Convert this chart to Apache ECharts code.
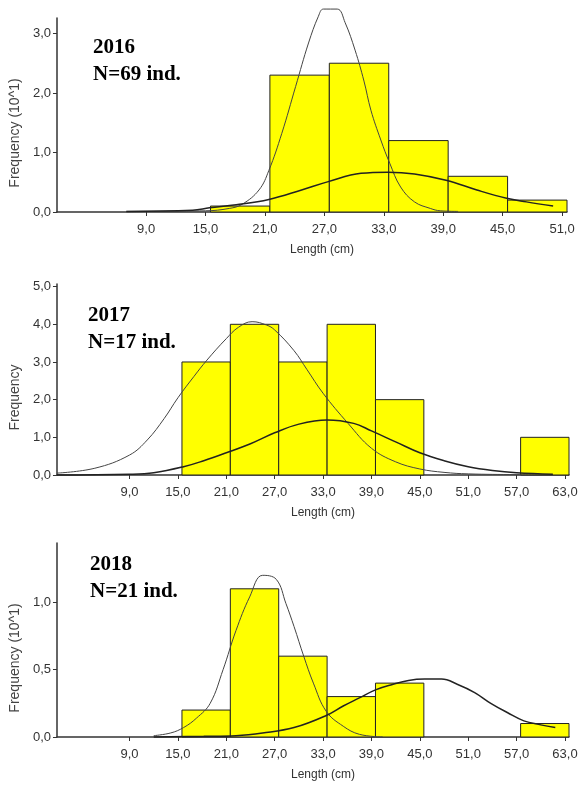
<!DOCTYPE html>
<html>
<head>
<meta charset="utf-8">
<script src="https://cdn.jsdelivr.net/npm/echarts@6/dist/echarts.min.js"></script>
<style>
  html, body { margin: 0; padding: 0; background: #fff; }
  #chart { width: 582px; height: 787px; }
</style>
</head>
<body>
<div id="chart"></div>
<script>
// bins: left edge of each 6 cm class, and its frequency
var binWidth = 6
var bins2016 = [15.5, 21.5, 27.5, 33.5, 39.5, 45.5]
var freq2016 = [0.1, 2.3, 2.5, 1.2, 0.6, 0.2]
var bins2017 = [15.5, 21.5, 27.5, 33.5, 39.5, 57.5]
var freq2017 = [3, 4, 3, 4, 2, 1]
var bins2018 = [15.5, 21.5, 27.5, 33.5, 39.5, 57.5]
var freq2018 = [0.2, 1.1, 0.6, 0.3, 0.4, 0.1]

// fitted curves [length, frequency]
var narrow2016 = [[7, 0.01], [15, 0.02], [17.4, 0.06], [18.7, 0.13], [20.4, 0.37], [21.4, 0.7], [22.7, 1.32],
  [24.1, 2.11], [25.4, 2.84], [26.4, 3.29], [26.9, 3.41], [28.3, 3.41], [29.1, 3.18], [30.1, 2.72],
  [31, 2.2], [31.7, 1.71], [32.7, 1.21], [33.6, 0.82], [34.7, 0.42], [36.1, 0.17], [37.7, 0.06],
  [38.7, 0.02], [40.5, 0.01]]
var wide2016 = [[7, 0.01], [13.7, 0.03], [15.4, 0.07], [18.1, 0.12], [21.4, 0.21], [24.7, 0.37], [27.4, 0.51],
  [30.7, 0.65], [33.4, 0.67], [36.1, 0.64], [39.4, 0.53], [42.4, 0.37], [45.4, 0.23], [47.4, 0.17], [50.1, 0.1]]
var narrow2017 = [[0, 0.05], [4.7, 0.18], [9, 0.53], [11.2, 0.93], [13.3, 1.5], [15, 2.05], [17, 2.62],
  [18.6, 3.05], [21, 3.62], [22.5, 3.92], [24.2, 4.07], [26, 3.98], [27, 3.85], [29.4, 3.3], [31, 2.8],
  [33, 2.17], [36.1, 1.37], [39, 0.71], [42, 0.35], [45, 0.16], [48, 0.07], [51, 0.03], [57, 0.01], [61.5, 0]]
var wide2017 = [[0, 0], [9, 0.02], [12, 0.06], [15.7, 0.22], [18.2, 0.38], [21, 0.59], [24, 0.83], [27, 1.12],
  [30, 1.35], [33.5, 1.46], [36.8, 1.37], [39, 1.17], [42, 0.88], [45, 0.59], [48, 0.38], [51, 0.22],
  [54, 0.12], [57, 0.06], [61.5, 0.02]]
var narrow2018 = [[12, 0.01], [14.1, 0.03], [15.7, 0.07], [17.3, 0.14], [19, 0.25], [20.6, 0.5], [22.2, 0.79],
  [23.9, 1.04], [25.5, 1.2], [27.2, 1.17], [28.4, 0.99], [29.4, 0.82], [30.6, 0.6], [31.8, 0.4],
  [33.4, 0.19], [35.5, 0.08], [37.5, 0.02], [40.4, 0]]
var wide2018 = [[12, 0], [18.2, 0.005], [22.2, 0.01], [25.5, 0.03], [29.4, 0.07], [33.4, 0.16], [35.5, 0.23],
  [37.5, 0.29], [39.5, 0.35], [41.6, 0.39], [43.6, 0.42], [45.6, 0.43], [47.7, 0.43], [49.7, 0.39],
  [51.8, 0.33], [53.8, 0.25], [55.9, 0.18], [57.9, 0.12], [60, 0.09], [61.8, 0.07]]

// tick labels
var xTicks2016 = [9, 15, 21, 27, 33, 39, 45, 51]
var xTicksLong = [9, 15, 21, 27, 33, 39, 45, 51, 57, 63]
var yTicks2016 = [0, 1, 2, 3]
var yTicks2017 = [0, 1, 2, 3, 4, 5]
var yTicks2018 = [0, 0.5, 1]

var titles = ['2016\nN=69 ind.', '2017\nN=17 ind.', '2018\nN=21 ind.']

var chart = echarts.init(document.getElementById('chart'))

function comma (v) {
  return v.toFixed(1).replace('.', ',')
}

function xAxis (idx, max, ticks) {
  return {
    type: 'value', gridIndex: idx, min: 0, max: max,
    name: 'Length (cm)', nameLocation: 'middle', nameGap: 32,
    nameTextStyle: { color: '#333', fontSize: 12, fontFamily: 'Liberation Sans', padding: [0, 0, 0, 20] },
    axisLine: { lineStyle: { color: '#333', width: 1.5 } },
    axisTick: { show: true, length: 4, customValues: ticks, lineStyle: { color: '#333' } },
    axisLabel: { customValues: ticks, formatter: comma, margin: 11, color: '#333', fontSize: 13, fontFamily: 'Liberation Sans' },
    splitLine: { show: false }
  }
}

function yAxis (idx, max, ticks, name, gap) {
  return {
    type: 'value', gridIndex: idx, min: 0, max: max,
    name: name, nameLocation: 'middle', nameGap: gap, nameRotate: 90,
    nameTextStyle: { color: '#444', fontSize: 14, fontFamily: 'Liberation Sans', padding: [0, 36, 0, 0] },
    axisLine: { show: true, lineStyle: { color: '#333', width: 1.5 } },
    axisTick: { show: true, length: 4, customValues: ticks, lineStyle: { color: '#333' } },
    axisLabel: { customValues: ticks, formatter: comma, margin: 6, color: '#333', fontSize: 13, fontFamily: 'Liberation Sans' },
    splitLine: { show: false }
  }
}

function bars (idx, starts, freq) {
  var data = starts.map(function (s, i) { return [s, s + binWidth, freq[i]] })
  return {
    type: 'custom', xAxisIndex: idx, yAxisIndex: idx, data: data,
    renderItem: function (params, api) {
      var a = api.coord([api.value(0), api.value(2)])
      var b = api.coord([api.value(1), 0])
      return {
        type: 'rect',
        shape: { x: a[0], y: a[1], width: b[0] - a[0], height: b[1] - a[1] },
        style: { fill: '#ffff00', stroke: '#222', lineWidth: 1 }
      }
    },
    z: 2
  }
}

function curve (idx, pts, width, color) {
  return {
    type: 'line', xAxisIndex: idx, yAxisIndex: idx, data: pts,
    smooth: 0.4, showSymbol: false, clip: false, silent: true,
    lineStyle: { color: color, width: width }, z: 3
  }
}

chart.setOption({
  animation: false,
  title: titles.map(function (t, i) {
    return {
      text: t, left: [88, 83, 85][i], top: [29, 297, 546][i],
      textStyle: { fontFamily: 'Liberation Serif', fontWeight: 'bold', fontSize: 21, lineHeight: 27, color: '#000' }
    }
  }),
  grid: [
    { left: 52, top: 18, width: 515, height: 194 },
    { left: 52, top: 284, width: 517, height: 191 },
    { left: 53, top: 543, width: 516, height: 194 }
  ],
  xAxis: [
    xAxis(0, 51.5, xTicks2016),
    xAxis(1, 63.5, xTicksLong),
    xAxis(2, 63.5, xTicksLong)
  ],
  yAxis: [
    yAxis(0, 3.26, yTicks2016, 'Frequency (10^1)', 25),
    yAxis(1, 5.07, yTicks2017, 'Frequency', 19),
    yAxis(2, 1.44, yTicks2018, 'Frequency (10^1)', 24)
  ],
  series: [
    bars(0, bins2016, freq2016),
    curve(0, narrow2016, 1, '#444'),
    curve(0, wide2016, 1.5, '#222'),
    bars(1, bins2017, freq2017),
    curve(1, narrow2017, 1, '#444'),
    curve(1, wide2017, 1.5, '#222'),
    bars(2, bins2018, freq2018),
    curve(2, narrow2018, 1, '#444'),
    curve(2, wide2018, 1.5, '#222')
  ]
})
</script>
</body>
</html>
